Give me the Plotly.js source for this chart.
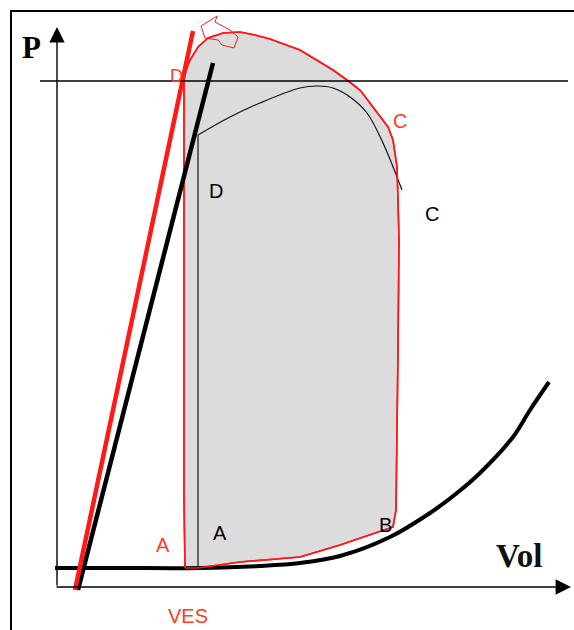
<!DOCTYPE html>
<html>
<head>
<meta charset="utf-8">
<script src="https://cdn.plot.ly/plotly-3.0.1.min.js"></script>
<style>html,body{margin:0;padding:0;background:#fff;}#chart{width:574px;height:630px;}</style>
</head>
<body>
<div id="chart"></div>
<script>
// Volume (arbitrary units) and pressure (arbitrary units)
const edpvrVol = [-2, 63, 143, 203, 243, 283, 333, 373, 400, 423, 456, 473, 492];
const edpvrP   = [19, 19, 19, 21, 24, 31, 50, 74, 94, 114, 150, 177, 205];

const espvrRedVol = [136, 18];
const espvrRedP   = [556, -3];
const espvrBlackVol = [156, 21];
const espvrBlackP   = [524, -3];

// reference loop: isovolumetric contraction (vertical) then ejection curve
const refIsoVol = [141, 141];
const refIsoP   = [19, 452];
const refEjectVol = [141, 173, 203, 243, 260, 276, 293, 310, 326, 345];
const refEjectP   = [452, 470, 484, 499, 501, 499, 490, 474, 444, 397];

const loopVol = [128,127,127,127,127,128,130,133,141,151,166,183,198,213,243,260,276,290,303,316,331,336,340,341,342,341,340,339,336,313,283,243,183,141,128];
const loopP   = [19,87,287,427,507,514,519,527,540,549,554,555,552,548,537,527,517,507,497,480,460,447,420,387,347,237,137,77,60,52,42,30,25,19,19];

const notchVol = [144,157,160,158,173,181,177,165,161,148,144];
const notchP   = [561,569,571,565,557,550,539,542,547,549,561];

const refPressure = 506;

const RED = 'rgb(255,25,25)';
const RED_TXT = 'rgb(255,60,35)';

const traces = [
  {x: loopVol, y: loopP, mode: 'lines', fill: 'toself', fillcolor: '#dcdcdc',
   line: {color: RED, width: 1.6}, hoverinfo: 'skip'},
  {x: refIsoVol, y: refIsoP, mode: 'lines', line: {color: '#111', width: 1.2}, hoverinfo: 'skip'},
  {x: refEjectVol, y: refEjectP, mode: 'lines', line: {color: '#111', width: 1.2, shape: 'spline', smoothing: 1}, hoverinfo: 'skip'},
  {x: edpvrVol, y: edpvrP, mode: 'lines', line: {color: '#000', width: 4, shape: 'spline'}, hoverinfo: 'skip'},
  {x: loopVol, y: loopP, mode: 'lines', line: {color: RED, width: 1.6}, hoverinfo: 'skip'},
  {x: espvrBlackVol, y: espvrBlackP, mode: 'lines', line: {color: '#000', width: 4.5}, hoverinfo: 'skip'},
  {x: espvrRedVol, y: espvrRedP, mode: 'lines', line: {color: RED, width: 4.5}, hoverinfo: 'skip'},
  {x: notchVol, y: notchP, mode: 'lines', line: {color: RED, width: 1}, hoverinfo: 'skip'}
];

function lbl(text, x, y, color, size, family, bold) {
  return {text: bold ? '<b>' + text + '</b>' : text, x: x, y: y, xref: 'x', yref: 'y',
    showarrow: false, xanchor: 'center', yanchor: 'middle',
    font: {color: color, size: size, family: family}};
}
const sans = 'Liberation Sans, Arial, sans-serif';
const serif = 'Liberation Serif, Times New Roman, serif';

const annotations = [
  {x: 514, y: 0, ax: -2, ay: 0, xref: 'x', yref: 'y', axref: 'x', ayref: 'y', text: '',
   showarrow: true, arrowhead: 2, arrowsize: 2.2, arrowwidth: 1.4, arrowcolor: '#000'},
  {x: 0, y: 560, ax: 0, ay: 0, xref: 'x', yref: 'y', axref: 'x', ayref: 'y', text: '',
   showarrow: true, arrowhead: 2, arrowsize: 2.2, arrowwidth: 1.4, arrowcolor: '#000'},
  lbl('P', -26, 540, '#000', 31, serif, true),
  lbl('Vol', 462, 31, '#111', 33, serif, true),
  lbl('D', 119, 511, RED_TXT, 18, sans),
  lbl('D', 159, 396, '#000', 20, sans),
  lbl('C', 343, 466, RED_TXT, 20, sans),
  lbl('C', 375, 373, '#000', 20, sans),
  lbl('A', 106, 42, RED_TXT, 20, sans),
  lbl('A', 163, 54, '#000', 20, sans),
  lbl('B', 328, 62, '#000', 20, sans),
  lbl('VES', 131, -29, RED_TXT, 20, sans)
];

const shapes = [
  {type: 'line', xref: 'x', yref: 'y', x0: -17, x1: 511, y0: refPressure, y1: refPressure,
   line: {color: '#000', width: 1.3}, layer: 'above'},
  {type: 'line', xref: 'x', yref: 'y', x0: -46, x1: -46, y0: -60, y1: 576, line: {color: '#000', width: 2}},
  {type: 'line', xref: 'x', yref: 'y', x0: -47, x1: 540, y0: 576, y1: 576, line: {color: '#000', width: 2}}
];

const layout = {
  width: 574, height: 630,
  margin: {l: 0, r: 0, t: 0, b: 0},
  paper_bgcolor: '#fff', plot_bgcolor: '#fff',
  showlegend: false,
  xaxis: {range: [-57, 517], visible: false, fixedrange: true},
  yaxis: {range: [-43, 587], visible: false, fixedrange: true},
  annotations: annotations,
  shapes: shapes
};

Plotly.newPlot('chart', traces, layout, {staticPlot: true, displayModeBar: false});
</script>
</body>
</html>
